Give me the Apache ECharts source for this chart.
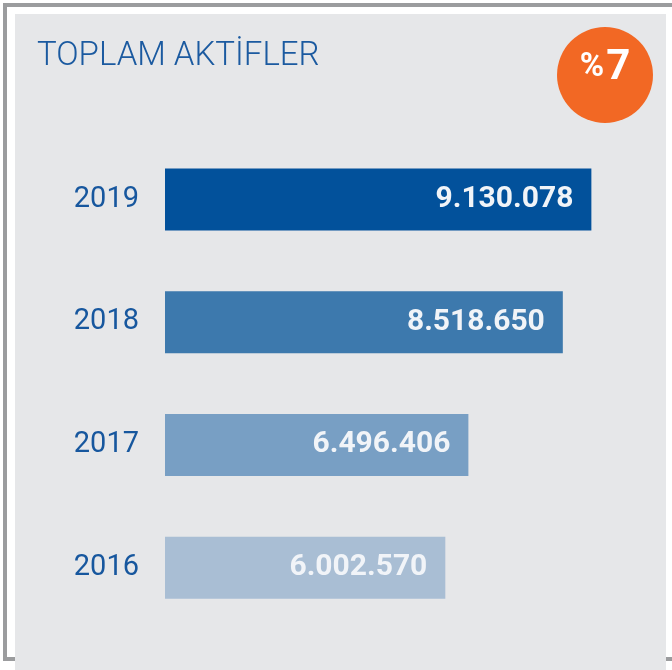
<!DOCTYPE html>
<html>
<head>
<meta charset="utf-8">
<script src="https://cdn.jsdelivr.net/npm/echarts@6/dist/echarts.min.js"></script>
<style>
html,body{margin:0;padding:0;background:#ffffff;}
#chart{width:672px;height:670px;}
</style>
</head>
<body>
<div id="chart"></div>
<script>
// ---- data ----
const years = ['2019', '2018', '2017', '2016'];
const totalAssets = [9130078, 8518650, 6496406, 6002570];
const titleText = 'TOPLAM AKTİFLER';
const changeSign = '%';
const changeValue = '7';

// ---- styles ----
const barColors = ['#02519b', '#3d79ad', '#789fc4', '#a9bed4'];
const blue = '#1b5aa0';

function fmt(v) {
  return String(v).replace(/\B(?=(\d{3})+(?!\d))/g, '.');
}

const chart = echarts.init(document.getElementById('chart'), null, {renderer: 'canvas'});
chart.setOption({
  backgroundColor: '#ffffff',
  animation: false,
  title: {
    text: titleText,
    left: 37,
    top: 40,
    padding: 0,
    textStyle: {fontFamily: 'Roboto', fontWeight: 300, fontSize: 33, color: blue}
  },
  graphic: [
    {type: 'rect', z: -30, silent: true, shape: {x: 3, y: 3, width: 700, height: 658}, style: {fill: '#9b9c9e'}},
    {type: 'rect', z: -29, silent: true, shape: {x: 7, y: 7, width: 700, height: 650}, style: {fill: '#ffffff'}},
    {type: 'rect', z: -28, silent: true, shape: {x: 15, y: 14, width: 651, height: 660}, style: {fill: '#e6e7e9'}},
    {type: 'circle', z: 10, silent: true, shape: {cx: 605, cy: 75, r: 48}, style: {fill: '#f26824'}},
    {type: 'text', z: 11, silent: true, x: 605, y: 89,
      style: {
        text: '{a|' + changeSign + '}{b|' + changeValue + '}',
        align: 'center', verticalAlign: 'bottom',
        rich: {
          a: {fontFamily: 'Roboto', fontWeight: 'bold', fontSize: 33, fill: '#ffffff', padding: [0, 2, 0, 0]},
          b: {fontFamily: 'Roboto', fontWeight: 'bold', fontSize: 42, fill: '#ffffff'}
        }
      }
    }
  ],
  grid: {left: 165, right: 40, top: 138, bottom: 41, containLabel: false},
  xAxis: {type: 'value', min: 0, max: 10000000, show: false},
  yAxis: {
    type: 'category',
    data: years,
    inverse: true,
    axisLine: {show: false},
    axisTick: {show: false},
    splitLine: {show: false},
    axisLabel: {margin: 26, fontFamily: 'Roboto', fontWeight: 'normal', fontSize: 29, color: '#17579e'}
  },
  series: [{
    type: 'bar',
    barWidth: 62,
    silent: true,
    data: totalAssets.map((v, i) => ({value: v, itemStyle: {color: barColors[i]}})),
    label: {
      show: true,
      position: 'insideRight',
      distance: 18,
      formatter: p => fmt(p.value),
      fontFamily: 'Roboto',
      fontWeight: 'bold',
      fontSize: 30,
      color: '#f1f4f8'
    }
  }]
});
</script>
</body>
</html>
